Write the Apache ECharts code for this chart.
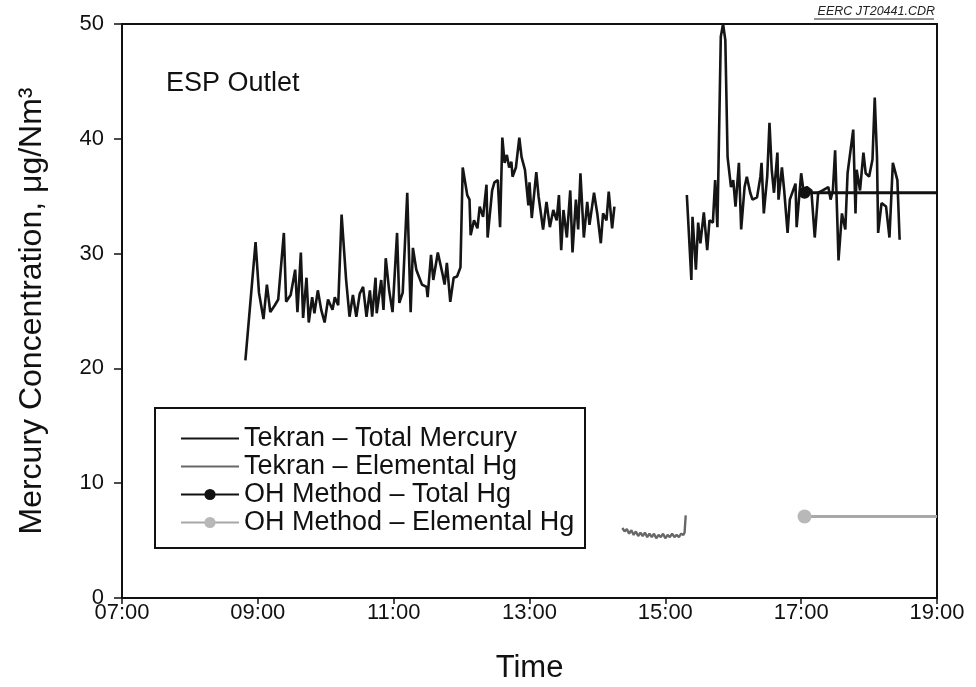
<!DOCTYPE html>
<html>
<head>
<meta charset="utf-8">
<script src="https://cdn.jsdelivr.net/npm/echarts@6/dist/echarts.min.js"></script>
<style>html,body{margin:0;padding:0;background:#fff}#c{width:976px;height:687px}</style>
</head>
<body>
<div id="c"></div>
<script>
const xTicks = ['07:00','09:00','11:00','13:00','15:00','17:00','19:00'];
const yTicks = [0,10,20,30,40,50];

const tekranTotalTimes = [
 '08:49','08:58','09:01','09:05','09:08','09:11','09:15','09:18','09:23','09:25','09:29','09:33','09:35','09:38','09:40','09:43','09:45','09:48','09:50','09:53','09:56','09:59',
 '10:02','10:06','10:08','10:11','10:14','10:18','10:21','10:24','10:27','10:30','10:33','10:36','10:39','10:41','10:44','10:45','10:49','10:51','10:53','10:56','10:59',
 '11:03','11:05','11:08','11:12','11:15','11:17','11:20','11:25','11:29','11:30','11:33','11:35','11:39','11:43','11:45','11:47','11:50','11:53','11:56','11:59',
 '12:01','12:05','12:07','12:08','12:11','12:14','12:16','12:19','12:22','12:23','12:27','12:29','12:32','12:34','12:36','12:38','12:40','12:42','12:44','12:45','12:48','12:51','12:53','12:56','12:59',
 '13:00','13:02','13:06','13:08','13:12','13:15','13:18','13:21','13:24','13:26','13:28','13:30','13:33','13:36','13:38','13:41','13:43','13:45','13:48','13:51','13:53','13:57',
 '14:00','14:03','14:05','14:08','14:10','14:13','14:15',
 '14:45',
 '15:19','15:23','15:24','15:27','15:29','15:31','15:34','15:37','15:39','15:42','15:44','15:46','15:49','15:51','15:53','15:55','15:58',
 '16:00','16:02','16:05','16:07','16:10','16:12','16:15','16:17','16:21','16:24','16:25','16:27','16:30','16:32','16:34','16:36','16:39','16:40','16:43','16:45','16:48','16:50','16:55','16:56',
 '17:00','17:02','17:05','17:09','17:12','17:15','17:19','17:24','17:26','17:28','17:30','17:32','17:33','17:36','17:39','17:41','17:46','17:48','17:49','17:52','17:55','17:57',
 '18:00','18:03','18:05','18:07','18:08','18:11','18:15','18:18','18:21','18:25','18:27'
];
const tekranTotalValues = [
 20.7,31.0,26.6,24.3,27.3,24.9,25.5,26.0,31.8,25.8,26.4,28.6,24.9,30.1,24.4,27.9,24.0,26.2,24.8,26.8,25.1,24.0,
 26.0,25.1,26.2,25.5,33.4,27.7,24.5,26.4,24.5,26.5,27.1,24.5,26.8,24.5,27.9,24.8,27.7,25.1,29.6,26.8,24.9,
 31.8,25.7,26.6,35.3,24.9,30.5,28.6,27.3,27.1,26.2,29.9,27.7,30.1,28.3,27.3,29.2,25.8,27.9,28.0,28.8,
 37.5,35.1,34.7,31.6,32.9,32.2,34.1,33.2,36.0,31.4,35.5,36.2,36.4,32.3,40.1,37.9,38.6,37.5,38.0,36.7,37.5,40.1,38.4,37.3,34.2,
 36.2,33.1,37.1,35.0,32.1,34.5,32.3,33.8,32.9,35.1,30.3,33.8,31.4,35.5,30.1,34.7,32.1,37.0,31.4,34.5,32.5,35.3,
 33.4,30.9,33.5,32.9,35.4,32.2,34.1,
 null,
 35.1,27.7,33.2,28.6,32.7,30.9,33.6,30.3,32.9,32.7,36.4,32.3,48.9,50.0,48.6,38.4,35.8,
 36.4,34.1,37.9,32.1,35.8,36.7,35.3,34.7,34.9,36.7,37.9,33.5,36.7,41.4,37.3,35.3,38.8,34.7,37.5,35.5,31.8,34.7,36.1,32.3,
 37.0,35.5,35.8,35.5,31.4,35.3,35.5,35.8,34.7,35.5,39.0,32.7,29.4,33.5,32.1,37.0,40.8,33.5,37.3,35.5,38.8,37.0,
 36.7,38.2,43.6,38.4,31.8,34.4,34.1,31.4,37.9,36.4,31.2
];

const tekranElemTimes = ['14:22','14:24','14:26','14:28','14:30','14:32','14:34','14:36','14:38','14:40','14:42','14:44','14:46','14:48','14:50','14:52','14:54','14:56','14:58','15:00','15:02','15:04','15:06','15:08','15:10','15:12','15:14','15:16','15:17','15:18'];
const tekranElemValues = [6.1,5.8,6.0,5.6,5.9,5.5,5.8,5.4,5.7,5.4,5.7,5.3,5.6,5.3,5.6,5.2,5.5,5.3,5.6,5.2,5.5,5.3,5.6,5.3,5.5,5.3,5.6,5.5,5.7,7.2];

const ohTotalTimes = ['17:03','19:00'];
const ohTotalValues = [35.3,35.3];
const ohElemTimes = ['17:03','19:00'];
const ohElemValues = [7.1,7.1];

function toMin(t){const p=t.split(':');return (+p[0])*60+(+p[1]);}
function fmt(m){const h=Math.floor(m/60),mm=m%60;return String(h).padStart(2,'0')+':'+String(mm).padStart(2,'0');}
function pairs(ts,vs){return ts.map((t,i)=>[toMin(t),vs[i]]);}
function markFirst(ts,vs){return ts.map((t,i)=>i===0?{value:[toMin(t),vs[i]]}:{value:[toMin(t),vs[i]],symbol:'none'});}

const FONT = '"Liberation Sans", Arial, Helvetica, sans-serif';
const chart = echarts.init(document.getElementById('c'));
chart.setOption({
  animation:false,
  backgroundColor:'#fff',
  textStyle:{fontFamily:FONT},
  grid:{left:122,right:39,top:24,bottom:89,show:true,borderColor:'#111',borderWidth:2,backgroundColor:'transparent',containLabel:false,outerBoundsMode:'none'},
  xAxis:{
    type:'value', min:toMin(xTicks[0]), max:toMin(xTicks[xTicks.length-1]), interval:120,
    name:'Time', nameLocation:'middle', nameGap:55,
    nameTextStyle:{fontSize:31,color:'#111',fontFamily:FONT},
    axisLine:{show:true,onZero:false,lineStyle:{color:'#111',width:2}},
    axisTick:{show:true,inside:false,length:6,lineStyle:{color:'#111',width:1.5}},
    axisLabel:{fontSize:22,color:'#111',margin:4,fontFamily:FONT,formatter:v=>fmt(v)},
    splitLine:{show:false}
  },
  yAxis:{
    type:'value', min:yTicks[0], max:yTicks[yTicks.length-1], interval:10,
    name:'Mercury Concentration, \u03bcg/Nm\u00b3', nameLocation:'middle', nameGap:74,
    nameTextStyle:{fontSize:32,color:'#111',fontFamily:FONT},
    axisLine:{show:true,lineStyle:{color:'#111',width:2}},
    axisTick:{show:true,inside:false,length:8,lineStyle:{color:'#111',width:1.5}},
    axisLabel:{fontSize:22,color:'#111',margin:18,fontFamily:FONT},
    splitLine:{show:false}
  },
  legend:{
    orient:'vertical', left:175, top:420, itemWidth:58, itemHeight:14, itemGap:1,
    textStyle:{fontSize:27,color:'#111',fontFamily:FONT},
    data:[
      {name:'Tekran \u2013 Total Mercury',itemStyle:{opacity:0}},
      {name:'Tekran \u2013 Elemental Hg',itemStyle:{opacity:0}},
      {name:'OH Method \u2013 Total Hg'},
      {name:'OH Method \u2013 Elemental Hg'}
    ]
  },
  graphic:[
    {type:'rect',shape:{x:155,y:408,width:430,height:140},style:{fill:'none',stroke:'#111',lineWidth:2},z:1},
    {type:'text',left:166,top:70,style:{text:'ESP Outlet',fontSize:27,fill:'#111',fontFamily:FONT}},
    {type:'text',right:41,top:5,style:{text:'EERC JT20441.CDR',fontSize:12.5,fontStyle:'italic',fill:'#222',fontFamily:FONT}},
    {type:'line',shape:{x1:814,y1:19,x2:934,y2:19},style:{stroke:'#222',lineWidth:1}}
  ],
  series:[
    {name:'Tekran \u2013 Total Mercury',type:'line',symbol:'none',connectNulls:false,
     lineStyle:{color:'#151515',width:2.6},itemStyle:{color:'#151515'},
     data:pairs(tekranTotalTimes,tekranTotalValues),z:3},
    {name:'Tekran \u2013 Elemental Hg',type:'line',symbol:'none',
     lineStyle:{color:'#686868',width:2.4},itemStyle:{color:'#686868'},
     data:pairs(tekranElemTimes,tekranElemValues),z:3},
    {name:'OH Method \u2013 Total Hg',type:'line',symbol:'circle',symbolSize:12,showSymbol:true,
     lineStyle:{color:'#111',width:3},itemStyle:{color:'#111'},
     data:markFirst(ohTotalTimes,ohTotalValues),z:4},
    {name:'OH Method \u2013 Elemental Hg',type:'line',symbol:'circle',symbolSize:14,showSymbol:true,
     lineStyle:{color:'#a8a8a8',width:3},itemStyle:{color:'#b8b8b8'},
     data:markFirst(ohElemTimes,ohElemValues),z:4}
  ]
});
</script>
</body>
</html>
